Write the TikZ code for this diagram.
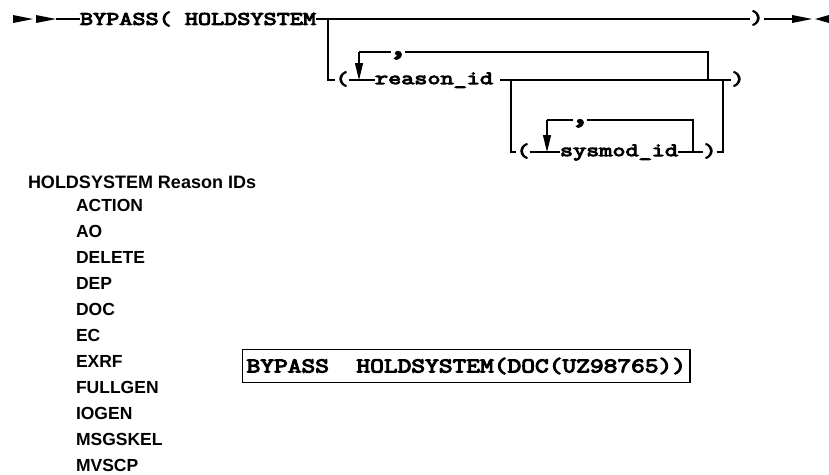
\documentclass[tikz,border=0pt]{standalone}
\usepackage{fontspec}
\usetikzlibrary{arrows.meta}
% heavy, wide typewriter faces for the railroad syntax and the example
\newfontfamily\railfont{Latin Modern Mono}[FakeBold=5,FakeStretch=1.34]
\newfontfamily\examplefont{Latin Modern Mono}[FakeBold=5,FakeStretch=1.27]
\newfontfamily\listfont{Liberation Sans}
\begin{document}
\begin{tikzpicture}[x=1pt,y=-1pt,
  rail/.style={line width=1.2pt},
  downloop/.style={rail,-{Triangle[width=8pt,length=17pt]}},
  word/.style={font=\railfont\fontsize{19}{20}\selectfont,inner sep=0pt,outer sep=0pt,anchor=base west},
  sym/.style={font=\railfont\fontsize{19}{20}\selectfont,inner sep=0pt,outer sep=0pt,anchor=base},
  sep/.style={font=\railfont\fontsize{30}{30}\selectfont,inner sep=0pt,outer sep=0pt,anchor=base},
  lbl/.style={font=\listfont\bfseries\fontsize{17.5}{18}\selectfont,inner sep=0pt,outer sep=0pt,anchor=base west},
  example/.style={draw,line width=1.2pt,font=\examplefont\fontsize{21}{22}\selectfont,
    inner xsep=4pt,inner ysep=0pt,minimum height=33pt}]
\useasboundingbox (0,0) rectangle (829,474);

% ---- rows of the syntax diagram
\coordinate (mrow) at (0,19);
\coordinate (rrow) at (0,80);
\coordinate (srow) at (0,152);

% ---- main row
\fill (13,15) -- (33,19) -- (13,23) -- cycle;
\fill (36,15) -- (56,19) -- (36,23) -- cycle;
\coordinate (start) at (56,19);
\node[word] (cmd) at (80,24.8) {BYPASS( HOLDSYSTEM};
\node[sym] (mclose) at (757,23.8) {)};
\coordinate (stop) at (792,19);
\fill (792,15) -- (812,19) -- (792,23) -- cycle;
\fill (829,15) -- (815,19) -- (829,23) -- cycle;
\draw[rail] (start) -- (cmd.west |- mrow);
\draw[rail] (cmd.east |- mrow) -- (mclose.west |- mrow);
\draw[rail] (mclose.east |- mrow) -- (stop);

% ---- reason_id branch
\coordinate (b1) at (328,19);
\node[sym] (op1) at (342,84.8) {(};
\node[word] (rid) at (375,84.1) {reason\_id};
\node[sep] (c1) at (398,55) {,};
\node[sym] (rclose) at (738,84.8) {)};
\coordinate (l1a) at (359,52);
\coordinate (l1b) at (708,52);
\coordinate (l1c) at (708,80);
\coordinate (l1d) at (359,80);
\coordinate (r1) at (500,80);
\draw[rail] (b1) |- (op1.west |- rrow);
\draw[rail] (op1.east |- rrow) -- (rid.west |- rrow);
\draw[rail] (r1) -- (rclose.west |- rrow);
\draw[rail] ([xshift=-3pt]c1.east |- l1a) -- (l1b) -- (l1c);
\draw[rail] ([xshift=3pt]c1.west |- l1a) -- (l1a);
\draw[downloop] (l1a) -- (l1d);

% ---- sysmod_id branch
\coordinate (b2) at (511,80);
\coordinate (b3) at (723,80);
\node[sym] (op2) at (523,156.8) {(};
\node[word] (sid) at (560,156.1) {sysmod\_id};
\node[sep] (c2) at (580,123) {,};
\node[sym] (sclose) at (710,156.8) {)};
\coordinate (l2a) at (547,120);
\coordinate (l2b) at (693,120);
\coordinate (l2c) at (693,152);
\coordinate (l2d) at (547,152);
\draw[rail] (b2) |- (op2.west |- srow);
\draw[rail] (op2.east |- srow) -- (sid.west |- srow);
\draw[rail] (sid.east |- srow) -- (sclose.west |- srow);
\draw[rail] (sclose.east |- srow) -| (b3);
\draw[rail] ([xshift=-3pt]c2.east |- l2a) -- (l2b) -- (l2c);
\draw[rail] ([xshift=3pt]c2.west |- l2a) -- (l2a);
\draw[downloop] (l2a) -- (l2d);

% ---- reason id list
\node[lbl,font=\listfont\bfseries\fontsize{18}{19}\selectfont] (hdr) at (28,188) {HOLDSYSTEM Reason IDs};
\foreach \t [count=\i] in {ACTION,AO,DELETE,DEP,DOC,EC,EXRF,FULLGEN,IOGEN,MSGSKEL,MVSCP}
  \node[lbl] (id\i) at (76,185.5+26*\i) {\t};

% ---- example
\node[example,anchor=west] (ex) at (242,366) {BYPASS\ \ HOLDSYSTEM(DOC(UZ98765))};
\end{tikzpicture}
\end{document}
